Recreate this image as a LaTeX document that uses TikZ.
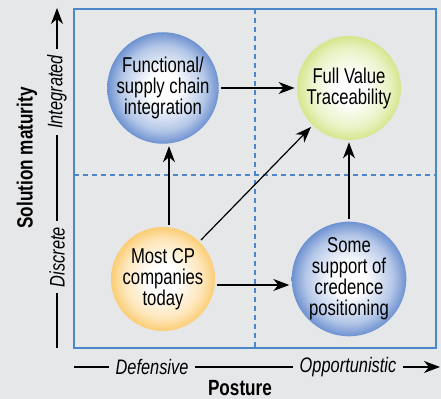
\documentclass[tikz,border=0pt]{standalone}
\usepackage{fontspec}
\setmainfont{Liberation Sans}[FakeStretch=0.78]
\usetikzlibrary{arrows.meta}

\definecolor{bgGray}{RGB}{230,231,233}
\definecolor{frameBlue}{RGB}{74,134,200}
\definecolor{ballBlue}{RGB}{70,116,196}
\definecolor{ballGreen}{RGB}{200,224,110}
\definecolor{ballOrange}{RGB}{251,192,80}

\pgfdeclareradialshading{shadeBlue}{\pgfpoint{0bp}{0bp}}{color(0bp)=(white); color(7bp)=(white); color(19bp)=(ballBlue!40!white); color(26bp)=(ballBlue!85!white); color(29bp)=(ballBlue); color(50bp)=(ballBlue)}
\pgfdeclareradialshading{shadeGreen}{\pgfpoint{0bp}{0bp}}{color(0bp)=(white); color(7bp)=(white); color(19bp)=(ballGreen!40!white); color(26bp)=(ballGreen!85!white); color(29bp)=(ballGreen); color(50bp)=(ballGreen)}
\pgfdeclareradialshading{shadeOrange}{\pgfpoint{0bp}{0bp}}{color(0bp)=(white); color(7bp)=(white); color(19bp)=(ballOrange!40!white); color(26bp)=(ballOrange!85!white); color(29bp)=(ballOrange); color(50bp)=(ballOrange)}

\tikzset{
  ball/.style={circle, minimum size=52pt, inner sep=0pt, align=center,
    font=\fontsize{10.7}{10.5}\selectfont},
  conn/.style={-{Stealth[length=8pt,width=6pt,inset=2.5pt]}, line width=0.6pt,
    shorten >=1pt, shorten <=1pt},
  axisline/.style={line width=0.6pt},
  axisword/.style={inner sep=3pt, font=\fontsize{10.5}{12}\selectfont\itshape},
  axistitle/.style={inner sep=0pt, font=\fontsize{11}{12}\selectfont\bfseries},
  quadline/.style={frameBlue, line width=0.6pt, dash pattern=on 2.5pt off 2pt}
}

\begin{document}
\begin{tikzpicture}[x=0.5pt,y=-0.5pt]

\fill[bgGray] (0,0) rectangle (441,399);
\useasboundingbox (0,0) rectangle (441,399);

% quadrants
\draw[quadline] (255,9) -- (255,348);
\draw[quadline] (74,175) -- (436,175);
\draw[frameBlue, line width=1pt] (74,9) rectangle (436,348);

% stages
\node[ball, shading=shadeBlue]   (func) at (163,88)  {Functional/\\supply chain\\integration};
\node[ball, shading=shadeGreen]  (full) at (349,88)  {Full Value\\Traceability};
\node[ball, shading=shadeOrange] (most) at (163,279) {Most CP\\companies\\today};
\node[ball, shading=shadeBlue]   (some) at (349,279) {Some\\support of\\credence\\positioning};

\draw[conn] (func) -- (full);
\draw[conn] ([xshift=3pt]most.north) -- ([xshift=3pt]func.south);
\draw[conn] (most) -- (full);
\draw[conn] ([yshift=-3pt]most.east) -- ([yshift=-3pt]some.west);
\draw[conn] (some) -- (full);

% vertical axis
\node[axisword, rotate=90] (discrete)   at (57,257) {Discrete};
\node[axisword, rotate=90] (integrated) at (57,92)  {Integrated};
\coordinate (yfoot) at (57,348);
\coordinate (ytip)  at (57,8);
\draw[axisline] (yfoot) -- (discrete.west);
\draw[axisline] (discrete.east) -- (integrated.west);
\draw[axisline, -{Stealth[length=8pt,width=6pt,inset=2.5pt]}] (integrated.east) -- (ytip);
\node[axistitle, rotate=90] (maturity) at (27,158) {Solution maturity};

% horizontal axis
\node[axisword] (defensive)     at (152,367) {Defensive};
\node[axisword] (opportunistic) at (348,367) {Opportunistic};
\coordinate (xfoot) at (74,367);
\coordinate (xtip)  at (440,367);
\draw[axisline] (xfoot) -- (defensive.west);
\draw[axisline] (defensive.east) -- (opportunistic.west);
\draw[axisline, -{Stealth[length=8pt,width=6pt,inset=2.5pt]}] (opportunistic.east) -- (xtip);
\node[axistitle] (posture) at (240,388) {Posture};

\end{tikzpicture}
\end{document}
